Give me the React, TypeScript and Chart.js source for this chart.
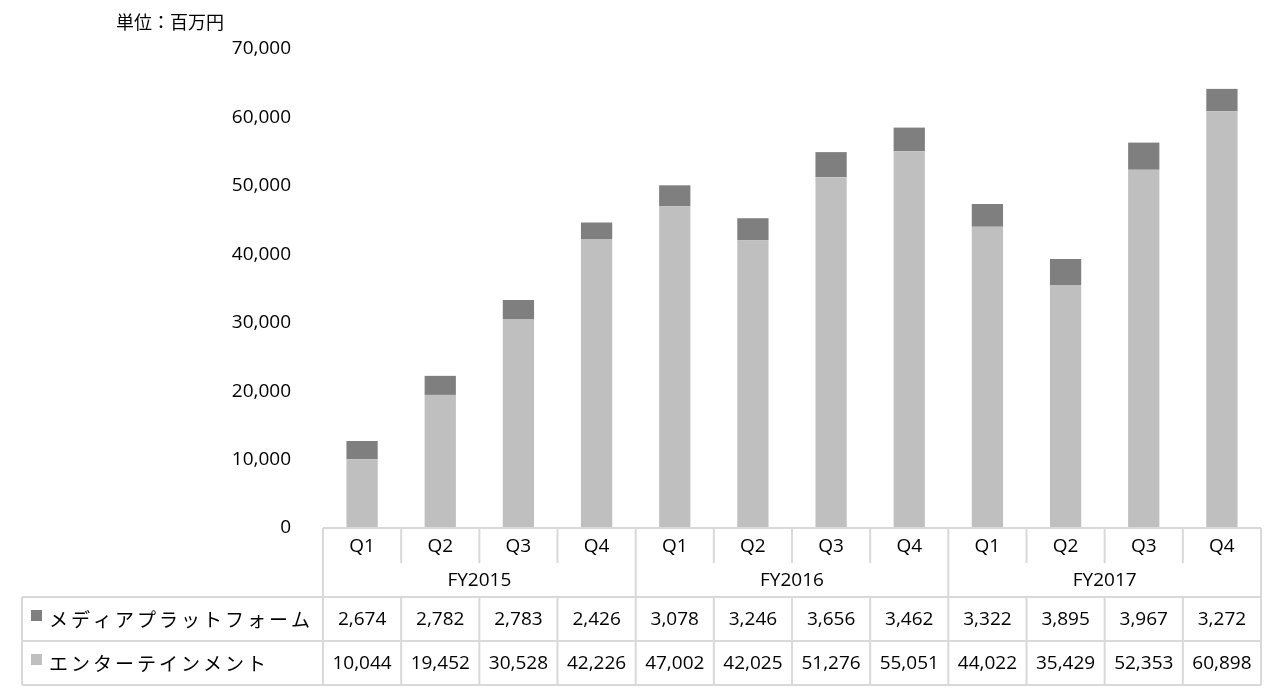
import React, { useEffect, useRef } from "react";
import { Chart, registerables } from "chart.js";

Chart.register(...registerables);

const quarters = ["Q1", "Q2", "Q3", "Q4", "Q1", "Q2", "Q3", "Q4", "Q1", "Q2", "Q3", "Q4"];
const fiscalYears = ["FY2015", "FY2016", "FY2017"];
const mediaPlatform = [2674, 2782, 2783, 2426, 3078, 3246, 3656, 3462, 3322, 3895, 3967, 3272];
const entertainment = [10044, 19452, 30528, 42226, 47002, 42025, 51276, 55051, 44022, 35429, 52353, 60898];
const seriesNames = ["メディアプラットフォーム", "エンターテインメント"];
const unitLabel = "単位：百万円";
const yMax = 70000;
const yStep = 10000;

const DARK = "#7f7f7f";
const LIGHT = "#bfbfbf";
const BORDER = "#d9d9d9";
const NUM_FONT = '19px "Open Sans", "Liberation Sans", sans-serif';
const JP_FONT = '19px "Noto Sans CJK JP", sans-serif';

const fmt = (v: number) => v.toLocaleString("en-US");

const tablePlugin = {
  id: "dataTable",
  afterDraw(chart: any) {
    const ctx = chart.ctx as CanvasRenderingContext2D;
    const area = chart.chartArea;
    const xs = chart.scales.x;
    const n = quarters.length;
    const colW = (area.right - area.left) / n;
    const top = area.bottom;
    const qBot = top + 35;
    const fyBot = top + 69;
    const mBot = top + 113;
    const eBot = top + 157;
    const tableLeft = 22;
    ctx.save();
    ctx.strokeStyle = BORDER;
    ctx.lineWidth = 2;
    const line = (x1: number, y1: number, x2: number, y2: number) => {
      ctx.beginPath();
      ctx.moveTo(x1, y1);
      ctx.lineTo(x2, y2);
      ctx.stroke();
    };
    line(area.left, top, area.right, top);
    line(tableLeft, fyBot, area.right, fyBot);
    line(tableLeft, mBot, area.right, mBot);
    line(tableLeft, eBot, area.right, eBot);
    line(tableLeft, fyBot, tableLeft, eBot);
    for (let i = 0; i <= n; i++) {
      const xe = i < n ? xs.getPixelForValue(i) - colW / 2 : xs.getPixelForValue(n - 1) + colW / 2;
      if (i % 4 === 0) {
        line(xe, top, xe, eBot);
      } else {
        line(xe, top, xe, qBot);
        line(xe, fyBot, xe, eBot);
      }
    }
    ctx.fillStyle = "#000";
    ctx.textAlign = "center";
    ctx.textBaseline = "middle";
    ctx.font = NUM_FONT;
    for (let i = 0; i < n; i++) {
      const cx = xs.getPixelForValue(i);
      ctx.fillText(quarters[i], cx, (top + qBot) / 2 + 1);
      ctx.fillText(fmt(mediaPlatform[i]), cx, (fyBot + mBot) / 2 + 1);
      ctx.fillText(fmt(entertainment[i]), cx, (mBot + eBot) / 2 + 1);
    }
    for (let g = 0; g < fiscalYears.length; g++) {
      const cx = (xs.getPixelForValue(g * 4) + xs.getPixelForValue(g * 4 + 3)) / 2;
      ctx.fillText(fiscalYears[g], cx, (qBot + fyBot) / 2 + 1);
    }
    const rows = [
      { name: seriesNames[0], color: chart.data.datasets[1].backgroundColor, y: (fyBot + mBot) / 2 },
      { name: seriesNames[1], color: chart.data.datasets[0].backgroundColor, y: (mBot + eBot) / 2 },
    ];
    ctx.textAlign = "left";
    ctx.font = JP_FONT;
    (ctx as any).letterSpacing = "3px";
    for (const r of rows) {
      ctx.fillStyle = r.color;
      ctx.fillRect(31, r.y - 9, 11, 11);
      ctx.fillStyle = "#000";
      ctx.fillText(r.name, 49, r.y + 1);
    }
    (ctx as any).letterSpacing = "0px";
    ctx.font = '18px "Noto Sans CJK JP", sans-serif';
    ctx.fillText(unitLabel, 116, 22);
    ctx.restore();
  },
};

export default function App() {
  const ref = useRef<HTMLCanvasElement>(null);
  useEffect(() => {
    document.body.style.margin = "0";
    const chart = new Chart(ref.current!, {
      type: "bar",
      data: {
        labels: quarters,
        datasets: [
          {
            label: seriesNames[1],
            data: entertainment,
            backgroundColor: LIGHT,
            barPercentage: 0.4,
            categoryPercentage: 1,
          },
          {
            label: seriesNames[0],
            data: mediaPlatform,
            backgroundColor: DARK,
            barPercentage: 0.4,
            categoryPercentage: 1,
          },
        ],
      },
      options: {
        animation: false,
        responsive: false,
        layout: { padding: { left: 0, right: 20, top: 49, bottom: 164 } },
        plugins: { legend: { display: false }, tooltip: { enabled: false } },
        scales: {
          x: { stacked: true, display: false },
          y: {
            stacked: true,
            min: 0,
            max: yMax,
            grid: { display: false },
            border: { display: false },
            ticks: {
              stepSize: yStep,
              padding: 24,
              color: "#000",
              font: { family: '"Open Sans", "Liberation Sans", sans-serif', size: 19 },
              callback: (v: any) => fmt(Number(v)),
            },
            afterFit: (s: any) => {
              s.width = 323;
            },
          },
        },
      },
      plugins: [tablePlugin],
    });
    return () => chart.destroy();
  }, []);
  return (
    <div style={{ position: "fixed", left: 0, top: 0 }}>
      <canvas ref={ref} width={1281} height={692} style={{ display: "block" }} />
    </div>
  );
}
